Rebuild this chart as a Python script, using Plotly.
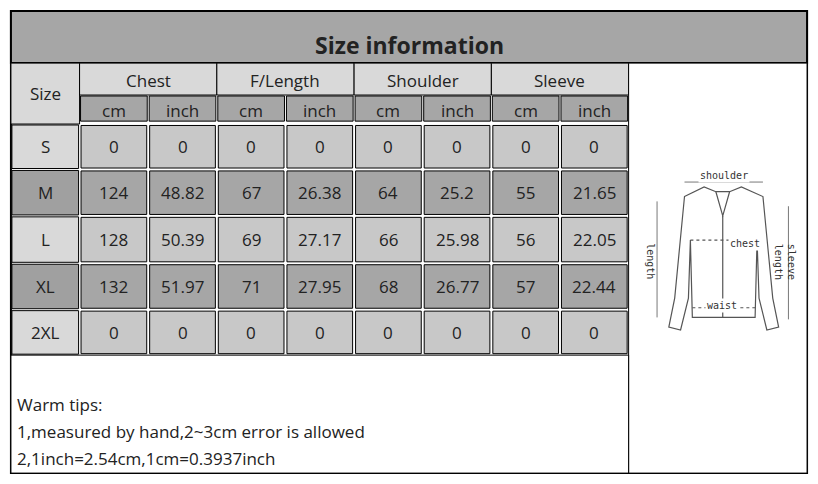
import plotly.graph_objects as go

title = "Size information"
measures = ["Chest", "F/Length", "Shoulder", "Sleeve"]
units = ["cm", "inch"]
sizes = ["S", "M", "L", "XL", "2XL"]
values = [
    ["0", "0", "0", "0", "0", "0", "0", "0"],
    ["124", "48.82", "67", "26.38", "64", "25.2", "55", "21.65"],
    ["128", "50.39", "69", "27.17", "66", "25.98", "56", "22.05"],
    ["132", "51.97", "71", "27.95", "68", "26.77", "57", "22.44"],
    ["0", "0", "0", "0", "0", "0", "0", "0"],
]
tips = ["Warm tips:", "1,measured by hand,2~3cm error is allowed", "2,1inch=2.54cm,1cm=0.3937inch"]

W, H = 818, 484
colx = [3, 73] + [73 + 70 * (i + 1) for i in range(8)]  # column edges
rowy = [120, 167, 215, 264, 312, 359]
FONT = "Open Sans"
shapes, ann = [], []

def rect(x0, y0, x1, y1, fill, lw=1, inset=0):
    shapes.append(dict(type="rect", x0=x0 + inset, x1=x1 - inset, y0=y0 + inset, y1=y1 - inset,
                       fillcolor=fill, line=dict(color="black", width=lw), layer="below"))

def text(x, y, s, size=17, bold=False, anchor="center"):
    ann.append(dict(x=x, y=y, text=f"<b>{s}</b>" if bold else s, showarrow=False, xanchor=anchor,
                    font=dict(family=FONT, size=size, color="#222")))

rect(3, 3, 815, 481, "white", lw=2)
rect(3, 3, 815, 57, "#a6a6a6", lw=2)
text(409, 38, title, 23, bold=True)
rect(3, 57, 73, 120, "#d9d9d9")
text(38, 88, "Size")
for i, m in enumerate(measures):
    x0, x1 = colx[1 + 2 * i], colx[3 + 2 * i]
    rect(x0, 57, x1, 90, "#d9d9d9")
    text((x0 + x1) / 2, 75, m)
    for j, u in enumerate(units):
        a, b = colx[1 + 2 * i + j], colx[2 + 2 * i + j]
        rect(a, 90, b, 118, "#a6a6a6", inset=1)
        text((a + b) / 2, 106, u)
for r, sz in enumerate(sizes):
    y0, y1 = rowy[r], rowy[r + 1]
    dark = r % 2 == 1
    rect(colx[0], y0, colx[1], y1, "#a0a0a0" if dark else "#d9d9d9", inset=1)
    text(38, (y0 + y1) / 2, sz)
    for c, v in enumerate(values[r]):
        a, b = colx[1 + c], colx[2 + c]
        rect(a, y0, b, y1, "#a6a6a6" if dark else "#c8c8c8", inset=1.5)
        text((a + b) / 2, (y0 + y1) / 2, v)
rect(633, 57, 815, 481, "white")
rect(3, 359, 633, 481, "white")
for k, t in enumerate(tips):
    text(7, 410 + 28 * k, t, 17, anchor="left")

g = "#555"
def path(d, w=1.2, dash=None):
    shapes.append(dict(type="path", path=d, line=dict(color=g, width=w, dash=dash)))
path("M 690 195 L 710 185 L 722 190 L 736 190 L 748 185 L 770 195 L 780 300 L 786 330 L 774 333 L 766 300 "
     "L 764 240 L 762 320 L 698 320 L 696 240 L 694 300 L 686 333 L 674 330 L 680 300 Z")
path("M 722 190 L 729 215 L 736 190")
path("M 729 215 L 729 320")
path("M 696 240 L 764 240", dash="dot")
path("M 690 180 L 770 180", w=0.8)
path("M 662 200 L 662 320", w=0.8)
path("M 796 205 L 796 322", w=0.8)
path("M 698 310 L 762 310", dash="dot")
for x, y, s in [(730, 173, "shoulder"), (752, 244, "chest"), (728, 308, "waist")]:
    ann.append(dict(x=x, y=y, text=s, showarrow=False, bgcolor="white",
                    font=dict(family="DejaVu Sans Mono", size=10, color="#333")))
for x, s in [(655, "length"), (792, "sleeve<br>length")]:
    ann.append(dict(x=x, y=262, text=s, showarrow=False, textangle=90,
                    font=dict(family="DejaVu Sans Mono", size=10, color="#333")))

fig = go.Figure()
fig.update_layout(width=W - 16, height=H - 16, margin=dict(l=0, r=0, t=0, b=0), plot_bgcolor="white",
                  paper_bgcolor="white", shapes=shapes, annotations=ann, showlegend=False,
                  xaxis=dict(range=[0, W], visible=False, fixedrange=True),
                  yaxis=dict(range=[H, 0], visible=False, fixedrange=True))
fig.write_html("out.html")
